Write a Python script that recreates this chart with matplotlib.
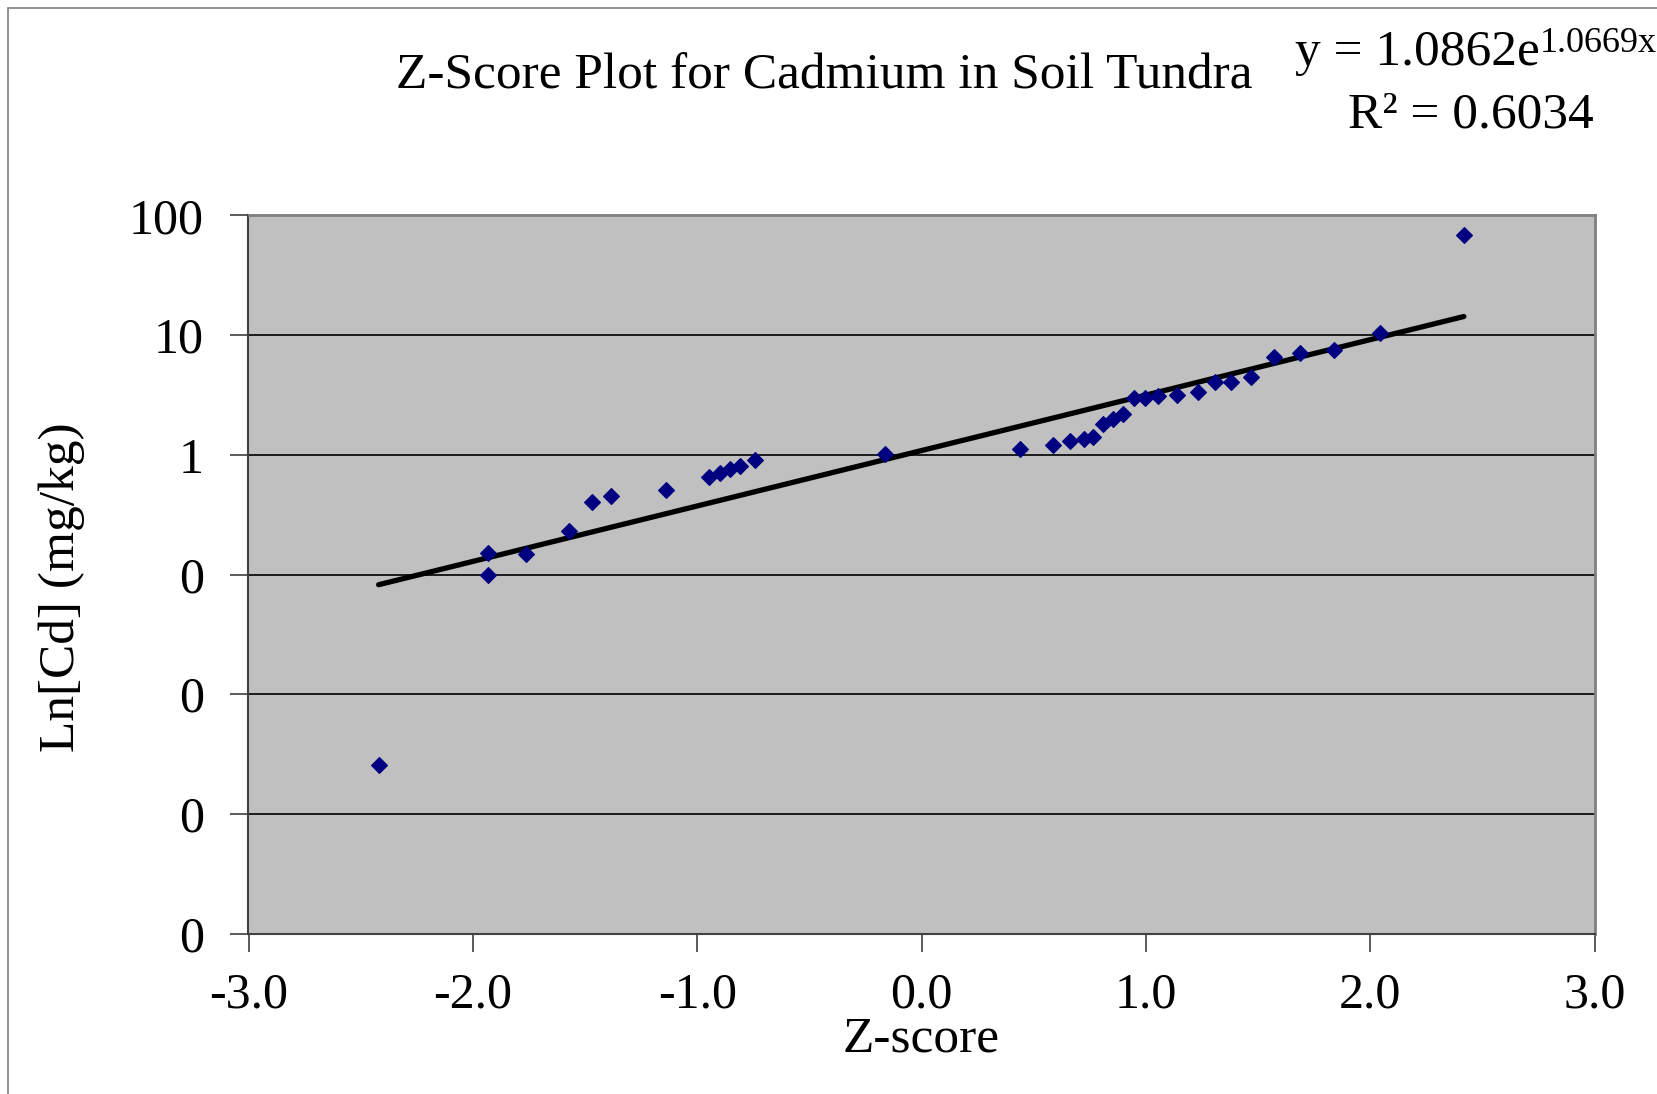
import numpy as np
import matplotlib
matplotlib.use("Agg")
import matplotlib.pyplot as plt
from matplotlib.ticker import FixedLocator, FuncFormatter
from matplotlib.patches import Rectangle

# ---- data ----
z_scores = [-2.42, -1.932, -1.932, -1.763, -1.570, -1.470, -1.385, -1.138,
            -0.949, -0.899, -0.854, -0.808, -0.742, -0.161,
            0.441, 0.585, 0.662, 0.724, 0.766, 0.809, 0.853, 0.899, 0.949,
            0.998, 1.054, 1.138, 1.233, 1.307, 1.381, 1.470, 1.570, 1.689,
            1.838, 2.043, 2.417]
cd_values = [0.00254, 0.152, 0.100, 0.149, 0.230, 0.404, 0.454, 0.506,
             0.654, 0.706, 0.764, 0.804, 0.902, 1.01,
             1.11, 1.20, 1.30, 1.35, 1.40, 1.81, 1.99, 2.18, 2.96,
             3.00, 3.12, 3.16, 3.32, 4.03, 4.08, 4.44, 6.61, 7.05,
             7.52, 10.4, 68.9]
fit_a = 1.0862
fit_b = 1.0669
r_squared = 0.6034
x_ticks = [-3.0, -2.0, -1.0, 0.0, 1.0, 2.0, 3.0]
y_ticks = [1e-4, 1e-3, 1e-2, 1e-1, 1, 10, 100]

title = "Z-Score Plot for Cadmium in Soil Tundra"
xlabel = "Z-score"
ylabel = "Ln[Cd] (mg/kg)"

plt.rcParams['font.family'] = ['Liberation Serif', 'DejaVu Serif']

W, H = 1658, 1094
fig = plt.figure(figsize=(W / 100, H / 100), dpi=100)
fig.patch.set_facecolor('white')

# outer chart border
fig.add_artist(Rectangle((8 / W, -0.01), 1.02, 1 - 8 / H + 0.01,
                         transform=fig.transFigure, fill=False,
                         edgecolor='#808080', linewidth=1.2))

left, right, top, bottom = 248.5, 1594.6, 215.5, 933.5
ax = fig.add_axes([left / W, 1 - bottom / H, (right - left) / W, (bottom - top) / H])
ax.set_facecolor('#C0C0C0')
ax.set_yscale('log')
ax.set_xlim(-3, 3)
ax.set_ylim(1e-4, 100)

ax.yaxis.set_major_locator(FixedLocator(y_ticks))
ax.yaxis.set_minor_locator(FixedLocator([]))
ax.yaxis.set_major_formatter(FuncFormatter(lambda v, p: f"{v:.0f}"))
ax.set_xticks(x_ticks)
ax.xaxis.set_major_formatter(FuncFormatter(lambda v, p: f"{v:.1f}"))

ax.grid(True, axis='y', color='black', linewidth=1.2)
ax.set_axisbelow(True)

for s in ['top', 'right']:
    ax.spines[s].set_color('#808080')
    ax.spines[s].set_linewidth(2)
for s in ['left', 'bottom']:
    ax.spines[s].set_color('#404040')
    ax.spines[s].set_linewidth(1.5)

ax.tick_params(axis='both', direction='out', length=13, width=1.2,
               color='#404040', labelsize=36)
ax.tick_params(axis='y', pad=19)
ax.tick_params(axis='x', pad=15)

# trendline
xf = np.linspace(min(z_scores), max(z_scores), 200)
ax.plot(xf, fit_a * np.exp(fit_b * xf), color='black', linewidth=3.8,
        solid_capstyle='round', zorder=3)

# data points
ax.plot(z_scores, cd_values, linestyle='none', marker='D', markersize=8.5,
        color='#000080', markeredgecolor='#000080', markeredgewidth=0.8,
        zorder=4)

ax.set_xlabel(xlabel, fontsize=37)
ax.xaxis.set_label_coords(0.5, -0.147)
ax.xaxis.label.set_va('center')
ax.set_ylabel(ylabel, fontsize=37)
ax.yaxis.set_label_coords(-0.139, 0.4826)
ax.yaxis.label.set_va('center')

fig.text(824 / W, 1 - 76 / H, title, fontsize=37, ha='center', va='center')

# trendline equation with superscript exponent
eq_main = fig.text(1295 / W, 1 - 65 / H, f"y = {fit_a}e", fontsize=37,
                   ha='left', va='baseline')
fig.texts[-1].axes = None
ax_ann = fig.add_artist(
    matplotlib.text.Annotation(f"{fit_b}x", xy=(1.0, 1 - 52 / H),
                               xycoords=(eq_main, 'figure fraction'),
                               fontsize=26, ha='left', va='baseline'))
fig.text(1348 / W, 1 - 127 / H, f"R² = {r_squared}", fontsize=37,
         ha='left', va='baseline')

fig.savefig("out.png", dpi=100)
